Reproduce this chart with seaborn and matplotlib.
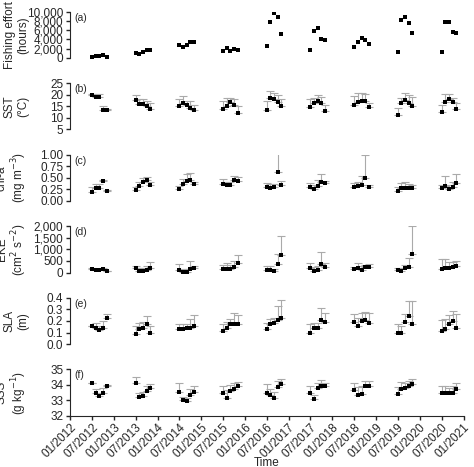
import numpy as np
import pandas as pd
import matplotlib
matplotlib.use("Agg")
import matplotlib.pyplot as plt
import matplotlib.dates as mdates
import seaborn as sns

years = list(range(2012, 2021))
months = [7, 8, 9, 10, 11]

fishing = [
    [100, 500, 300, 700, 200], [1000, 900, 1300, 1600, 1600],
    [2700, 2300, 2800, 3500, 3500], [1400, 2100, 1400, 2000, 1800],
    [2500, 7700, 9700, 8800, 5200], [1800, 5900, 6400, 4000, 3800],
    [2400, 3400, 4300, 3800, 3000], [1300, 8200, 8800, 7600, 5300],
    [1300, 7800, 7800, 5700, 5400]]

sst = [[20, 19.2, 19, 13.4, 13.4], [17.8, 16, 16, 15, 14], [15, 16.6, 15.4, 14.4, 13.2],
       [14, 15, 16.8, 15.6, 12], [13.6, 18.8, 18, 17, 15.2], [14.6, 16.6, 17.4, 16.4, 12.8],
       [15.6, 16.8, 17.4, 17.2, 14.6], [11.4, 16.4, 17.6, 16.6, 15.2], [12.6, 16.8, 18, 16.8, 13.8]]
sst_err = [[0.3, 1.2, 1.3, 1.8, 0.3], [2.3, 2.3, 2.3, 2.3, 2.3], [3, 3, 2, 3, 2.5],
           [3.5, 3.8, 2, 2.5, 3], [3.5, 3, 2.8, 3, 2.8], [3.6, 2, 2.5, 2.8, 2.6],
           [3.8, 4, 3.5, 3, 2], [3, 2.3, 3, 3.5, 4], [3, 3.5, 2.4, 2, 2.6]]

chl = [[0.2, 0.29, 0.29, 0.43, 0.22], [0.23, 0.33, 0.42, 0.45, 0.35], [0.26, 0.36, 0.43, 0.45, 0.37],
       [0.37, 0.35, 0.35, 0.45, 0.43], [0.31, 0.28, 0.31, 0.63, 0.35], [0.31, 0.25, 0.33, 0.4, 0.38],
       [0.3, 0.32, 0.35, 0.5, 0.3], [0.21, 0.28, 0.28, 0.28, 0.27], [0.27, 0.33, 0.25, 0.3, 0.38]]
chl_err = [[0.1, 0.07, 0.07, 0.02, 0.02], [0.08, 0.08, 0.08, 0.07, 0.05], [0.07, 0.12, 0.16, 0.15, 0.05],
           [0.1, 0.05, 0.05, 0.1, 0.08], [0.08, 0.08, 0.05, 0.4, 0.08], [0.08, 0.1, 0.12, 0.18, 0.06],
           [0.08, 0.1, 0.18, 0.5, 0.05], [0.1, 0.1, 0.12, 0.08, 0.07], [0.07, 0.2, 0.1, 0.1, 0.2]]

eke = [[150, 90, 110, 140, 60], [180, 60, 80, 120, 200], [130, 40, 40, 170, 190],
       [160, 170, 160, 250, 400], [120, 100, 50, 350, 780], [180, 50, 130, 350, 230],
       [150, 180, 120, 220, 260], [90, 80, 180, 260, 800], [170, 200, 210, 220, 300]]
eke_err = [[40, 60, 60, 40, 20], [100, 120, 130, 180, 250], [220, 100, 100, 350, 80],
           [150, 250, 150, 250, 350], [150, 180, 100, 450, 820], [250, 200, 150, 550, 200],
           [100, 250, 150, 100, 120], [100, 120, 150, 350, 1200], [400, 400, 230, 250, 220]]

sla = [[0.16, 0.14, 0.12, 0.14, 0.23], [0.09, 0.13, 0.14, 0.17, 0.10], [0.13, 0.13, 0.14, 0.14, 0.16],
       [0.11, 0.14, 0.17, 0.17, 0.17], [0.13, 0.17, 0.18, 0.21, 0.23], [0.10, 0.14, 0.14, 0.21, 0.19],
       [0.19, 0.16, 0.20, 0.21, 0.18], [0.10, 0.10, 0.19, 0.24, 0.17], [0.11, 0.13, 0.17, 0.20, 0.14]]
sla_err = [[0, 0.04, 0.04, 0.06, 0.03], [0.07, 0.05, 0.05, 0.07, 0.06], [0.04, 0.04, 0.03, 0.08, 0.09],
           [0.06, 0.05, 0.05, 0.1, 0.08], [0.05, 0.05, 0.05, 0.12, 0.15], [0.07, 0.04, 0.04, 0.1, 0.08],
           [0.07, 0.07, 0.07, 0.07, 0.09], [0.07, 0.06, 0.07, 0.13, 0.2], [0.1, 0.09, 0.08, 0.09, 0.12]]

sss = [[34.15, 33.5, 33.3, 33.5, 33.95], [34.1, 33.2, 33.25, 33.6, 33.8], [33.55, 33.0, 32.95, 33.35, 33.55],
       [33.45, 33.15, 33.6, 33.75, 33.9], [33.5, 33.35, 33.15, 33.85, 34.05], [33.45, 33.05, 33.8, 33.9, 33.9],
       [33.65, 33.35, 33.4, 33.9, 33.95], [33.4, 33.75, 33.8, 33.95, 34.05], [33.5, 33.5, 33.45, 33.5, 33.75]]
sss_err = [[0, 0.2, 0.2, 0.3, 0.05], [0.4, 0.3, 0.3, 0.3, 0.25], [0.6, 0.2, 0.2, 0.4, 0.4],
           [0.45, 0.5, 0.4, 0.4, 0.3], [0.55, 0.4, 0.4, 0.4, 0.3], [0.45, 0.3, 0.35, 0.4, 0.25],
           [0.5, 0.5, 0.5, 0.35, 0.3], [0.45, 0.45, 0.35, 0.3, 0.35], [0.4, 0.4, 0.35, 0.4, 0.4]]

dates = pd.to_datetime([f"{y}-{m:02d}-01" for y in years for m in months])

panels = [
    ("(a)", "Fishing effort\n(hours)", fishing, None, (0, 10000), np.arange(0, 10001, 2000), "{:,.0f}"),
    ("(b)", "SST\n(°C)", sst, sst_err, (5, 25), np.arange(5, 26, 5), "{:.0f}"),
    ("(c)", "chl-a\n(mg m$^{-3}$)", chl, chl_err, (0, 1), np.arange(0, 1.01, 0.25), "{:.2f}"),
    ("(d)", "EKE\n(cm$^{2}$ s$^{-2}$)", eke, eke_err, (0, 2000), np.arange(0, 2001, 500), "{:,.0f}"),
    ("(e)", "SLA\n(m)", sla, sla_err, (0, 0.4), np.arange(0, 0.41, 0.1), "{:.1f}"),
    ("(f)", "SSS\n(g kg$^{-1}$)", sss, sss_err, (32, 35), np.arange(32, 35.1, 1), "{:.0f}"),
]

sns.set_style("ticks")
plt.rcParams['font.family'] = ['Liberation Sans', 'DejaVu Sans']
plt.rcParams['font.size'] = 8.5

fig, axes = plt.subplots(6, 1, figsize=(4.74, 4.67), dpi=100, sharex=True)
fig.subplots_adjust(left=0.148, right=0.978, top=0.975, bottom=0.11, hspace=0.55)

for ax, (tag, label, vals, errs, ylim, ticks, fmt) in zip(axes, panels):
    y = np.array(vals).ravel()
    if errs is not None:
        e = np.array(errs).ravel()
        ax.errorbar(dates, y, yerr=[np.zeros_like(e), e], fmt="none",
                    ecolor="#aaaaaa", elinewidth=0.8, capsize=3, capthick=0.8, zorder=1)
    df = pd.DataFrame({"Date": dates, "Value": y})
    sns.scatterplot(data=df, x="Date", y="Value", ax=ax, marker="s", s=11,
                    color="black", edgecolor="black", linewidth=0, zorder=2)
    ax.set_ylim(*ylim)
    ax.set_yticks(ticks)
    ax.set_yticklabels([fmt.format(t) for t in ticks])
    ax.set_ylabel(label, fontsize=8.5, linespacing=1.1)
    ax.yaxis.set_label_coords(-0.105, 0.5)
    ax.text(0.012, 0.98, tag, transform=ax.transAxes, fontsize=7.5, va="top")
    sns.despine(ax=ax, top=True, right=True, bottom=True)
    ax.tick_params(axis="y", direction="out", length=3, width=1, pad=2)
    ax.tick_params(axis="x", length=0)
    ax.set_xlabel("")

ax = axes[-1]
ax.spines["bottom"].set_visible(True)
ax.set_xlim(pd.Timestamp("2012-01-01"), pd.Timestamp("2021-01-01"))
ax.xaxis.set_major_locator(mdates.MonthLocator(bymonth=[1, 7]))
ax.xaxis.set_major_formatter(mdates.DateFormatter("%m/%Y"))
ax.tick_params(axis="x", direction="out", length=3, width=1, pad=1)
for lbl in ax.get_xticklabels():
    lbl.set_rotation(45)
    lbl.set_ha("right")
    lbl.set_rotation_mode("anchor")
ax.set_xlabel("Time", labelpad=-2)

fig.savefig("out.png", dpi=100)
